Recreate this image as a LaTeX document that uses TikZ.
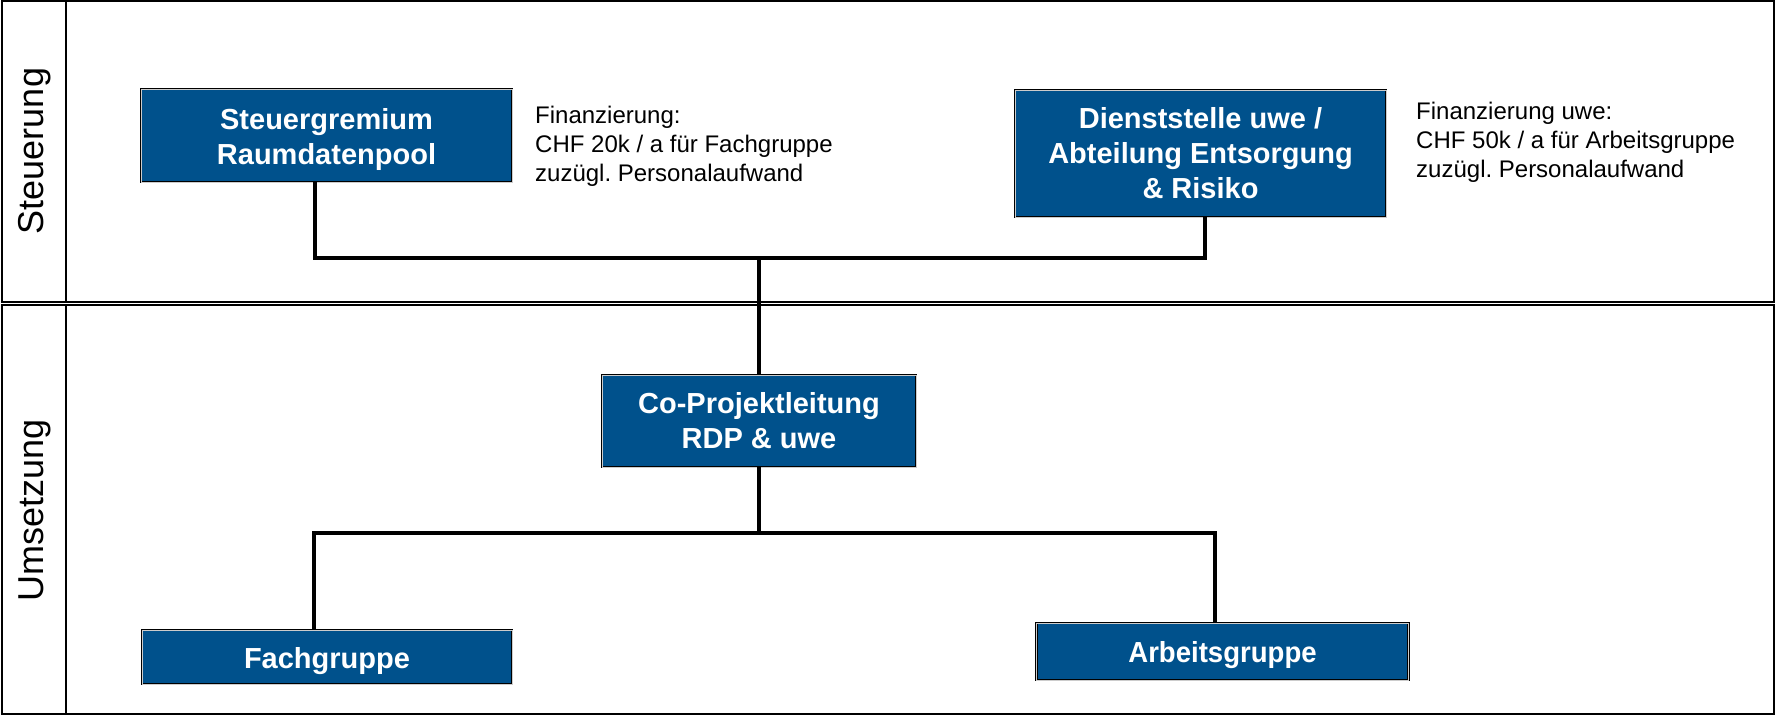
\documentclass[tikz,border=0pt]{standalone}
\usepackage{fontspec}
\usepackage{graphicx}
\setmainfont{Liberation Sans}
\frenchspacing
\definecolor{boxblue}{RGB}{0,81,140}
\tikzset{
  panel/.style={draw=black, line width=1.3pt},
  orgbox/.style={rectangle, fill=boxblue, draw=black, line width=0.9pt,
    double=gray!40, double distance=1pt, text=white, inner sep=0pt,
    align=center, font=\fontsize{29}{35}\selectfont\bfseries},
  boxtext/.style={inner sep=0pt, text=white, align=center,
    font=\fontsize{29}{35}\selectfont\bfseries},
  conn/.style={draw=black, line width=3.6pt},
  note/.style={anchor=base west, inner sep=0pt, font=\fontsize{24}{29}\selectfont},
  lane/.style={rotate=90, inner sep=0pt, font=\fontsize{36}{36}\selectfont}
}
\begin{document}
\begin{tikzpicture}[x=1pt,y=-1pt]
\useasboundingbox (0,0) rectangle (1776,716);
% panels
\draw[panel] (2,1) rectangle (1774,302);
\draw[panel] (2,305) rectangle (1774,714);
\draw[panel] (66,1) -- (66,302);
\draw[panel] (66,305) -- (66,714);
\node[lane] (lst) at (35,151) {Steuerung};
\node[lane] (lum) at (35,510) {Umsetzung};
% boxes
\node[orgbox, minimum width=371pt, minimum height=93pt] (steuer) at (326.5,135.5) {};
\node[boxtext] (steuertext) at (326.5,139) {Steuergremium\\Raumdatenpool};
\node[orgbox, minimum width=371pt, minimum height=127pt] (dienst) at (1200.5,153.5) {Dienststelle uwe /\\Abteilung Entsorgung\\\& Risiko};
\node[orgbox, minimum width=314pt, minimum height=92pt] (copl) at (759,421) {Co-Projektleitung\\RDP \& uwe};
\node[orgbox, minimum width=370pt, minimum height=54pt, text height=25pt, text depth=3pt] (fach) at (327,657) {Fachgruppe};
\node[orgbox, minimum width=372pt, minimum height=57pt, text height=25pt, text depth=3pt] (arbeit) at (1222.5,651.5) {\scalebox{0.95}[1]{Arbeitsgruppe}};
% notes
\node[note] (n1) at (535,123) {\begin{tabular}[t]{@{}l@{}}Finanzierung:\\CHF 20k / a für Fachgruppe\\zuzügl. Personalaufwand\end{tabular}};
\node[note] (n2) at (1416,119) {\begin{tabular}[t]{@{}l@{}}Finanzierung uwe:\\CHF 50k / a für Arbeitsgruppe\\zuzügl. Personalaufwand\end{tabular}};
% connectors
\coordinate (ta) at (315,258);
\coordinate (tb) at (1205,258);
\coordinate (tm) at (759,258);
\coordinate (ba) at (314,533);
\coordinate (bb) at (1215,533);
\draw[conn] (steuer.south -| ta) -- (ta) -- (tb) -- (dienst.south -| tb);
\draw[conn] (tm) -- (copl.north);
\draw[conn] (copl.south) -- (copl.south |- ba);
\draw[conn] (fach.north -| ba) -- (ba) -- (bb) -- (arbeit.north -| bb);
\end{tikzpicture}
\end{document}
